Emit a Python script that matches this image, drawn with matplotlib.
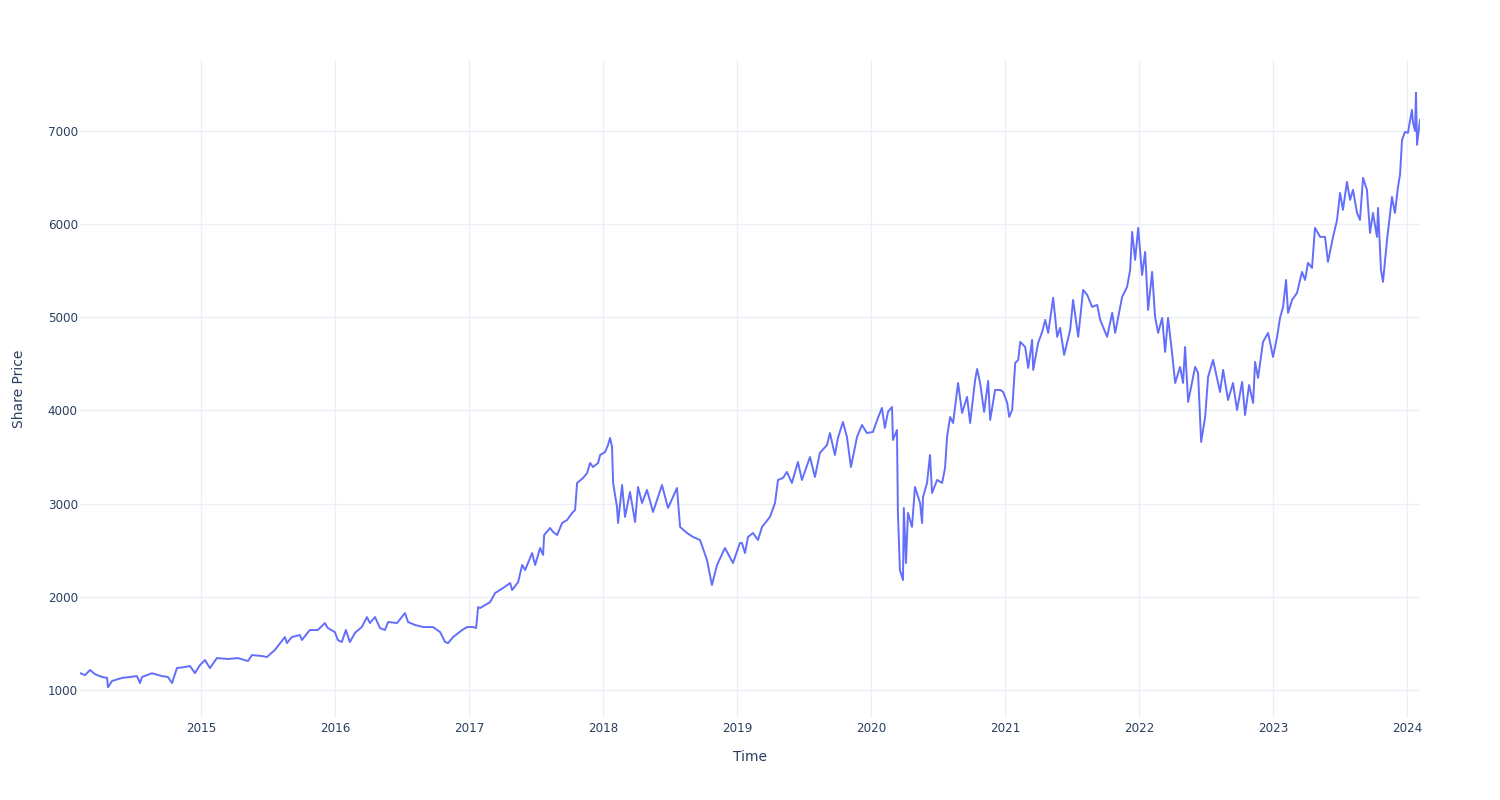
"""Daily share price history, 2014-2024."""

import matplotlib

matplotlib.use("Agg")
import matplotlib.dates as mdates
import matplotlib.pyplot as plt
import pandas as pd

plt.rcParams["font.family"] = ["DejaVu Sans"]

# time as decimal years
years = [
    2014.097, 2014.134, 2014.172, 2014.209, 2014.261, 2014.299, 2014.306, 2014.336,
    2014.410, 2014.470, 2014.522, 2014.545, 2014.560, 2014.634, 2014.709, 2014.754,
    2014.784, 2014.821, 2014.881, 2014.918, 2014.955, 2014.993,
    2015.030, 2015.067, 2015.119, 2015.201, 2015.276, 2015.351, 2015.381, 2015.455,
    2015.493, 2015.552, 2015.627, 2015.642, 2015.679, 2015.739, 2015.754, 2015.813,
    2015.873, 2015.925, 2015.948,
    2016.000, 2016.022, 2016.052, 2016.082, 2016.112, 2016.149, 2016.201, 2016.239,
    2016.261, 2016.299, 2016.336, 2016.373, 2016.396, 2016.463, 2016.522, 2016.545,
    2016.597, 2016.657, 2016.731, 2016.784, 2016.821, 2016.843, 2016.881, 2016.948,
    2016.985,
    2017.030, 2017.052, 2017.067, 2017.082, 2017.157, 2017.194, 2017.254, 2017.306,
    2017.321, 2017.366, 2017.396, 2017.418, 2017.470, 2017.493, 2017.530, 2017.552,
    2017.560, 2017.604, 2017.627, 2017.657, 2017.694, 2017.731, 2017.769, 2017.791,
    2017.806, 2017.851, 2017.881, 2017.903, 2017.925, 2017.963, 2017.978,
    2018.015, 2018.037, 2018.052, 2018.067, 2018.075, 2018.104, 2018.112, 2018.142,
    2018.164, 2018.201, 2018.239, 2018.261, 2018.291, 2018.328, 2018.373, 2018.410,
    2018.440, 2018.485, 2018.552, 2018.575, 2018.627, 2018.672, 2018.724, 2018.776,
    2018.813, 2018.851, 2018.910, 2018.970,
    2019.022, 2019.037, 2019.060, 2019.082, 2019.119, 2019.157, 2019.187, 2019.246,
    2019.284, 2019.306, 2019.343, 2019.373, 2019.410, 2019.455, 2019.485, 2019.545,
    2019.582, 2019.619, 2019.672, 2019.694, 2019.731, 2019.754, 2019.791, 2019.821,
    2019.851, 2019.896, 2019.933, 2019.970,
    2020.015, 2020.052, 2020.082, 2020.104, 2020.127, 2020.157, 2020.164, 2020.194,
    2020.201, 2020.216, 2020.239, 2020.245, 2020.261, 2020.276, 2020.306, 2020.328,
    2020.366, 2020.381, 2020.388, 2020.418, 2020.440, 2020.455, 2020.493, 2020.530,
    2020.552, 2020.567, 2020.590, 2020.612, 2020.649, 2020.679, 2020.716, 2020.739,
    2020.776, 2020.791, 2020.813, 2020.843, 2020.873, 2020.888, 2020.925, 2020.963,
    2020.985,
    2021.015, 2021.030, 2021.052, 2021.075, 2021.097, 2021.112, 2021.149, 2021.172,
    2021.201, 2021.209, 2021.246, 2021.276, 2021.299, 2021.321, 2021.358, 2021.388,
    2021.410, 2021.440, 2021.485, 2021.507, 2021.545, 2021.582, 2021.612, 2021.649,
    2021.687, 2021.709, 2021.761, 2021.799, 2021.821, 2021.873, 2021.910, 2021.933,
    2021.948, 2021.970, 2021.993,
    2022.022, 2022.045, 2022.067, 2022.097, 2022.119, 2022.142, 2022.172, 2022.194,
    2022.216, 2022.246, 2022.269, 2022.306, 2022.328, 2022.343, 2022.366, 2022.418,
    2022.440, 2022.463, 2022.493, 2022.515, 2022.552, 2022.604, 2022.627, 2022.664,
    2022.701, 2022.731, 2022.769, 2022.791, 2022.821, 2022.851, 2022.866, 2022.888,
    2022.925, 2022.963,
    2023.000, 2023.030, 2023.052, 2023.075, 2023.097, 2023.112, 2023.142, 2023.179,
    2023.216, 2023.239, 2023.261, 2023.291, 2023.313, 2023.351, 2023.388, 2023.410,
    2023.448, 2023.478, 2023.500, 2023.522, 2023.552, 2023.575, 2023.597, 2023.627,
    2023.649, 2023.672, 2023.701, 2023.724, 2023.746, 2023.776, 2023.784, 2023.806,
    2023.821, 2023.851, 2023.866, 2023.888, 2023.910, 2023.933, 2023.948, 2023.963,
    2023.985,
    2024.007, 2024.037, 2024.045, 2024.060, 2024.067, 2024.075, 2024.097,
]

prices = [
    1182, 1160, 1215, 1170, 1140, 1130, 1030, 1097,
    1130, 1140, 1150, 1075, 1140, 1180, 1150, 1140,
    1075, 1236, 1247, 1258, 1182, 1268,
    1322, 1236, 1343, 1333, 1343, 1311, 1375, 1365,
    1354, 1430, 1569, 1504, 1569, 1590, 1537, 1644,
    1644, 1719, 1665,
    1622, 1537, 1515, 1644, 1515, 1612, 1676, 1783,
    1719, 1783, 1665, 1644, 1730, 1719, 1826, 1730,
    1698, 1676, 1676, 1622, 1515, 1504, 1569, 1644,
    1676,
    1676, 1665, 1890, 1880, 1944, 2041, 2095, 2148,
    2073, 2159, 2342, 2288, 2470, 2342, 2524, 2449,
    2663, 2739, 2696, 2663, 2792, 2824, 2900, 2932,
    3222, 3275, 3329, 3436, 3393, 3436, 3522,
    3554, 3629, 3705, 3608, 3222, 2964, 2792, 3200,
    2857, 3125, 2803, 3179, 3007, 3147, 2910, 3071,
    3200, 2953, 3168, 2750, 2685, 2642, 2610, 2395,
    2127, 2342, 2524, 2363,
    2578, 2578, 2470, 2642, 2685, 2610, 2750, 2857,
    3007, 3254, 3275, 3340, 3222, 3447, 3254, 3500,
    3286, 3544, 3629, 3758, 3522, 3705, 3876, 3715,
    3393, 3715, 3844, 3758,
    3769, 3919, 4027, 3812, 3984, 4037, 3683, 3790,
    2900, 2288, 2180, 2953, 2363, 2900, 2750, 3179,
    3007, 2792, 3071, 3222, 3522, 3114, 3254, 3222,
    3383, 3715, 3930, 3865, 4295, 3973, 4145, 3865,
    4327, 4445, 4295, 3984, 4317, 3898, 4220, 4220,
    4198,
    4080, 3930, 4005, 4510, 4542, 4735, 4682, 4456,
    4757, 4435, 4725, 4843, 4972, 4832, 5208, 4790,
    4886, 4596, 4864, 5186, 4790, 5293, 5240, 5111,
    5132, 4972, 4790, 5047, 4832, 5218, 5325, 5508,
    5916, 5615, 5959,
    5454, 5701, 5078, 5486, 5003, 4832, 4993, 4628,
    4993, 4617, 4295, 4467, 4295, 4681, 4091, 4467,
    4402, 3662, 3930, 4359, 4542, 4198, 4435, 4112,
    4295, 4005, 4306, 3951, 4273, 4080, 4520, 4349,
    4735, 4832,
    4574, 4789, 4993, 5111, 5400, 5047, 5186, 5261,
    5486, 5400, 5583, 5529, 5959, 5862, 5862, 5594,
    5862, 6044, 6334, 6152, 6452, 6259, 6367, 6119,
    6044, 6495, 6367, 5905, 6119, 5862, 6173, 5508,
    5379, 5830, 6012, 6291, 6119, 6399, 6527, 6903,
    6989,
    6978, 7225, 7085, 7000, 7408, 6850, 7118,
]

Y_LIMITS = (700, 7760)


def _to_datetime(year_float):
    year = int(year_float)
    start = pd.Timestamp(year=year, month=1, day=1)
    length = (pd.Timestamp(year=year + 1, month=1, day=1) - start).days
    return start + pd.Timedelta(days=(year_float - year) * length)


def main():
    dates = [_to_datetime(y) for y in years]

    fig = plt.figure(figsize=(15, 8), dpi=100)
    ax = fig.add_axes([80 / 1500, 82 / 800, 1340 / 1500, 658 / 800])
    ax.plot(dates, prices, color="#636efa", linewidth=1.4, solid_joinstyle="round")

    ax.set_xlim(dates[0], dates[-1])
    ax.set_ylim(*Y_LIMITS)
    ax.xaxis.set_major_locator(mdates.YearLocator())
    ax.xaxis.set_major_formatter(mdates.DateFormatter("%Y"))
    ax.set_yticks(range(1000, 8000, 1000))

    ax.grid(True, color="#ebf0f8", linewidth=1)
    ax.set_axisbelow(True)
    for spine in ax.spines.values():
        spine.set_visible(False)
    ax.tick_params(length=0, labelsize=8.6, labelcolor="#2a3f5f")
    ax.tick_params(axis="x", pad=3)
    ax.tick_params(axis="y", pad=1.5)

    ax.set_xlabel("Time", fontsize=10, color="#2a3f5f", labelpad=11)
    ax.set_ylabel("Share Price", fontsize=10, color="#2a3f5f", labelpad=16)

    fig.savefig("out.png", dpi=100, facecolor="white")
    plt.close(fig)


if __name__ == "__main__":
    main()
